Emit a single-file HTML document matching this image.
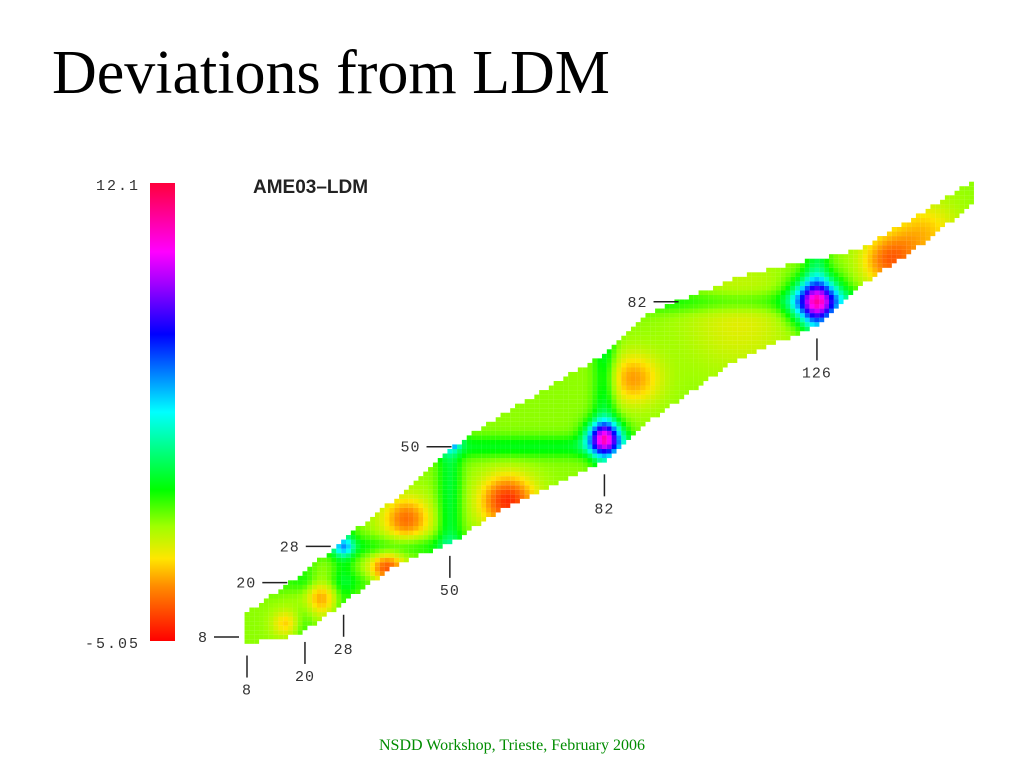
<!DOCTYPE html>
<html><head><meta charset="utf-8">
<style>
html,body{margin:0;padding:0;background:#fff;width:1024px;height:768px;overflow:hidden}
svg{display:block}
</style></head>
<body>
<svg id="chart" width="1024" height="768" viewBox="0 0 1024 768">
  <defs>
    <linearGradient id="cbar" x1="0" y1="1" x2="0" y2="0">
      <stop offset="0" stop-color="rgb(255,0,0)"/>
      <stop offset="0.12" stop-color="rgb(255,140,0)"/>
      <stop offset="0.18" stop-color="rgb(255,230,0)"/>
      <stop offset="0.25" stop-color="rgb(160,255,0)"/>
      <stop offset="0.33" stop-color="rgb(0,255,0)"/>
      <stop offset="0.5" stop-color="rgb(0,255,255)"/>
      <stop offset="0.67" stop-color="rgb(0,0,255)"/>
      <stop offset="0.78" stop-color="rgb(160,0,255)"/>
      <stop offset="0.85" stop-color="rgb(255,0,255)"/>
      <stop offset="1" stop-color="rgb(255,0,60)"/>
    </linearGradient>
  </defs>
  <text x="52" y="93" font-family="Liberation Serif, serif" font-size="62" fill="#000">Deviations from LDM</text>
  <text x="253" y="193" font-family="Liberation Sans, sans-serif" font-size="19" font-weight="bold" fill="#222">AME03–LDM</text>
  <rect x="150" y="183" width="25" height="458" fill="url(#cbar)"/>
  <text x="140" y="190" text-anchor="end" font-family="Liberation Mono, monospace" font-size="15" letter-spacing="2" fill="#333">12.1</text>
  <text x="140" y="648" text-anchor="end" font-family="Liberation Mono, monospace" font-size="15" letter-spacing="2" fill="#333">-5.05</text>
  <g id="cells"></g>
  <g id="ticks" font-family="Liberation Mono, monospace" font-size="15" letter-spacing="1" fill="#333"></g>
  <text x="512" y="750" text-anchor="middle" font-family="Liberation Serif, serif" font-size="16" fill="rgb(0,140,0)">NSDD Workshop, Trieste, February 2006</text>
</svg>
<script>
// band extent per neutron number
var bandN    = [8, 19, 28, 40, 50, 60, 82, 91, 110, 126, 135, 149, 158];
var bandZlow = [7, 9, 16, 25, 29, 36, 47, 56, 70, 77, 86, 96, 104];
var bandZhigh= [13, 21, 29, 39, 49, 56, 70, 79, 87, 91, 93, 102, 108];
// hotspot deviations (MeV)
var spotN   = [82, 126, 50, 28, 62, 41, 37, 23, 16, 88, 110, 141, 148];
var spotZ   = [52, 82, 52, 28, 38, 34, 23, 17, 11, 65, 78, 91, 97];
var spotAmp = [8.5, 8.5, 8, 3, -3.8, -2.8, -3.3, -2.3, -1.6, -2.2, -1.0, -2.8, -1.8];
var spotR   = [2.5, 3.5, 1.3, 1.5, 4, 3.5, 2.5, 3, 2, 4, 8, 4, 5];
var ridgeN = [20, 28, 50, 82, 126];
var ridgeNAmp = [0.8, 1.2, 1.8, 1.8, 1.8];
var ridgeZ = [20, 28, 50, 82];
var ridgeZAmp = [0.8, 1.2, 1.5, 1.2];
var baseValue = -0.6;
var vMin = -5.05, vMax = 12.1;
var magicZ = [8, 20, 28, 50, 82];
var magicN = [8, 20, 28, 50, 82, 126];

var NS = 'http://www.w3.org/2000/svg';
function xN(n){ return 247 + (n - 8) * 4.83; }
function yZ(z){ return 637 - (z - 8) * 4.53; }
function interp(arr, n){
  if (n <= bandN[0]) return arr[0];
  for (var i = 1; i < bandN.length; i++){
    if (n <= bandN[i]){ var f = (n - bandN[i-1]) / (bandN[i] - bandN[i-1]); return arr[i-1] + f * (arr[i] - arr[i-1]); }
  }
  return arr[arr.length - 1];
}
var stops = [[0,255,0,0],[0.12,255,140,0],[0.18,255,230,0],[0.25,160,255,0],[0.33,0,255,0],[0.5,0,255,255],[0.67,0,0,255],[0.78,160,0,255],[0.85,255,0,255],[1,255,0,60]];
function color(v){
  var t = Math.max(0, Math.min(1, (v - vMin) / (vMax - vMin)));
  for (var i = 1; i < stops.length; i++){
    if (t <= stops[i][0]){
      var a = stops[i-1], b = stops[i], f = (t - a[0]) / (b[0] - a[0]);
      return 'rgb(' + Math.round(a[1] + f*(b[1]-a[1])) + ',' + Math.round(a[2] + f*(b[2]-a[2])) + ',' + Math.round(a[3] + f*(b[3]-a[3])) + ')';
    }
  }
  return 'rgb(255,0,60)';
}
function value(n, z){
  var v = baseValue, i;
  for (i = 0; i < spotN.length; i++){
    var d2 = (n - spotN[i])*(n - spotN[i]) + (z - spotZ[i])*(z - spotZ[i]);
    v += spotAmp[i] * Math.exp(-d2 / (2 * spotR[i] * spotR[i]));
  }
  for (i = 0; i < ridgeN.length; i++) v += ridgeNAmp[i] * Math.exp(-(n - ridgeN[i])*(n - ridgeN[i]) / 6);
  for (i = 0; i < ridgeZ.length; i++) v += ridgeZAmp[i] * Math.exp(-(z - ridgeZ[i])*(z - ridgeZ[i]) / 6);
  return v;
}
var g = document.getElementById('cells');
for (var n = 8; n <= 158; n++){
  var lo = Math.round(interp(bandZlow, n)), hi = Math.round(interp(bandZhigh, n));
  for (var z = lo; z <= hi; z++){
    var r = document.createElementNS(NS, 'rect');
    r.setAttribute('x', (xN(n) - 2.45).toFixed(2));
    r.setAttribute('y', (yZ(z) - 2.3).toFixed(2));
    r.setAttribute('width', 4.9);
    r.setAttribute('height', 4.6);
    r.setAttribute('fill', color(value(n, z)));
    
    
    g.appendChild(r);
  }
}
var tg = document.getElementById('ticks');
function line(x1,y1,x2,y2,name){
  var l = document.createElementNS(NS, 'line');
  l.setAttribute('x1', x1); l.setAttribute('y1', y1); l.setAttribute('x2', x2); l.setAttribute('y2', y2);
  l.setAttribute('stroke', '#222'); l.setAttribute('stroke-width', 1.5);
  
  
  tg.appendChild(l);
}
function label(x, y, txt, anchor, name){
  var t = document.createElementNS(NS, 'text');
  t.setAttribute('x', x); t.setAttribute('y', y); t.setAttribute('text-anchor', anchor);
  t.textContent = txt;
  
  
  tg.appendChild(t);
}
magicZ.forEach(function(z){
  var n = 8;
  for (var k = 8; k <= 158; k++){ if (interp(bandZhigh, k) >= z){ n = k; break; } }
  var xe = xN(n) - 8, y = yZ(z);
  line(xe - 25, y, xe, y, 'z-tick-' + z);
  label(xe - 31, y + 5, String(z), 'end', 'z-label-' + z);
});
magicN.forEach(function(n){
  var zl = Math.round(interp(bandZlow, n));
  var x = xN(n), y0 = yZ(zl) + 14;
  line(x, y0, x, y0 + 22, 'n-tick-' + n);
  label(x, y0 + 39, String(n), 'middle', 'n-label-' + n);
});
</script>
</body></html>
